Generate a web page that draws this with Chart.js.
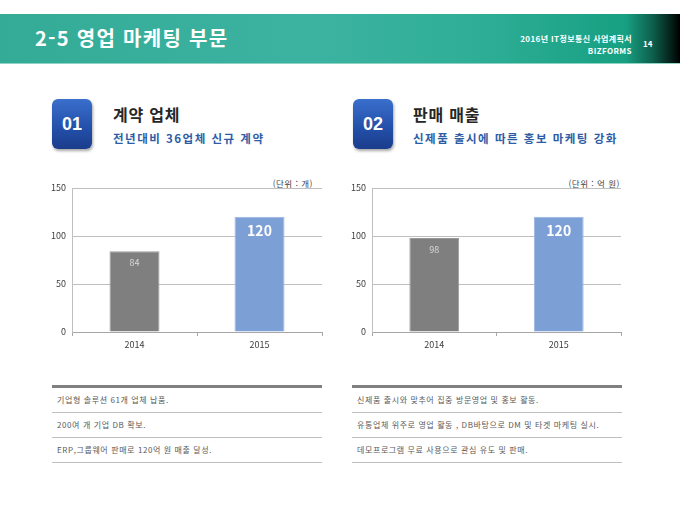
<!DOCTYPE html>
<html lang="ko">
<head>
<meta charset="utf-8">
<script src="https://cdn.jsdelivr.net/npm/chart.js@4/dist/chart.umd.min.js"></script>
<style>
  html, body { margin: 0; padding: 0; background: #fff; }
  body { width: 680px; height: 510px; position: relative; overflow: hidden;
         font-family: "Noto Sans CJK KR", "Noto Sans", sans-serif; }
  .band { position: absolute; left: 0; top: 14px; width: 680px; height: 49px;
          background: linear-gradient(90deg, #34ab96 0%, #3cb3a1 45%, #2fae97 70%, #17a082 92%, #0e5f4c 96%, #000 100%);
          border-bottom: 1px solid #8fd3c4; }
  .band h1 { position: absolute; left: 35px; top: 12px; margin: 0; font-size: 20px; font-weight: bold;
             color: #fff; letter-spacing: 1.3px; line-height: 24px; }
  .band .doc { position: absolute; right: 48px; top: 19px; text-align: right; color: #fff;
               font-size: 8px; font-weight: bold; line-height: 12px; letter-spacing: 0.4px; }
  .band .page { position: absolute; left: 643px; top: 24px; color: #fff; font-size: 8px; font-weight: bold; }
  .badge { position: absolute; top: 99px; width: 40px; height: 50px; border-radius: 6px;
           background: linear-gradient(180deg, #3a6fcc 0%, #2451ab 55%, #1b3d8c 100%);
           box-shadow: 1px 2px 3px rgba(0,0,0,0.35);
           color: #fff; font: bold 18px "Liberation Sans", Arial, sans-serif; text-align: center; line-height: 50px; }
  .sec-title { position: absolute; top: 103px; font-size: 16px; font-weight: bold; color: #262626;
               line-height: 22px; letter-spacing: 0.8px; }
  .sec-sub { position: absolute; top: 129px; font-size: 11.5px; font-weight: bold; color: #2e5da6;
             line-height: 18px; letter-spacing: 1.5px; }
  .unit { position: absolute; top: 177px; font-size: 8.5px; color: #404040; text-align: right;
          white-space: nowrap; letter-spacing: 0.5px; }
  .box { position: absolute; width: 300px; height: 190px; top: 170px; }
  .list { position: absolute; top: 385px; width: 270px; }
  .list .top { height: 3px; background: #808080; }
  .list .row { height: 24px; border-bottom: 1px solid #bfbfbf; font-size: 8px; color: #595959;
               line-height: 24px; padding-left: 5px; white-space: nowrap; letter-spacing: 0.6px; }
</style>
</head>
<body>
<div class="band">
  <h1>2-5 영업 마케팅 부문</h1>
  <div class="doc">2016년 IT정보통신 사업계획서<br>BIZFORMS</div>
  <div class="page">14</div>
</div>

<div class="badge" style="left:52px">01</div>
<div class="sec-title" style="left:113px">계약 업체</div>
<div class="sec-sub" style="left:113px">전년대비 36업체 신규 계약</div>

<div class="badge" style="left:353px">02</div>
<div class="sec-title" style="left:413px">판매 매출</div>
<div class="sec-sub" style="left:413px">신제품 출시에 따른 홍보 마케팅 강화</div>

<div class="unit" style="right:367px">(단위 : 개)</div>
<div class="unit" style="right:60px">(단위 : 억 원)</div>

<div class="box" style="left:30px"><canvas id="contract-chart"></canvas></div>
<div class="box" style="left:330px"><canvas id="sales-chart"></canvas></div>

<div class="list" style="left:52px">
  <div class="top"></div>
  <div class="row">기업형 솔루션 61개 업체 납품.</div>
  <div class="row">200여 개 기업 DB 확보.</div>
  <div class="row">ERP,그룹웨어 판매로 120억 원 매출 달성.</div>
</div>
<div class="list" style="left:352px">
  <div class="top"></div>
  <div class="row">신제품 출시와 맞추어 집중 방문영업 및 홍보 활동.</div>
  <div class="row">유통업체 위주로 영업 활동 , DB바탕으로 DM 및 타겟 마케팅 실시.</div>
  <div class="row">데모프로그램 무료 사용으로 관심 유도 및 판매.</div>
</div>

<script>
const categories = ['2014', '2015'];
const contractValues = [84, 120];
const salesValues = [98, 120];
const yMin = 0;
const yMax = 150;
const yStep = 50;

const barColors = ['#7f7f7f', '#7c9fd6'];
const fontFamily = '"Noto Sans CJK KR", "Noto Sans", sans-serif';

// draws the value inside the top of each bar
const valueLabels = {
  id: 'valueLabels',
  afterDatasetsDraw(chart, args, opts) {
    const ctx = chart.ctx;
    const meta = chart.getDatasetMeta(0);
    const values = chart.data.datasets[0].data;
    ctx.save();
    ctx.textAlign = 'center';
    ctx.textBaseline = 'top';
    meta.data.forEach((bar, i) => {
      const style = opts.styles[i];
      ctx.font = style.font;
      ctx.fillStyle = style.color;
      ctx.fillText(values[i], bar.x, bar.y + style.offset);
    });
    ctx.restore();
  }
};

function makeChart(id, values, yWidth, rightPad) {
  return new Chart(document.getElementById(id), {
    type: 'bar',
    data: {
      labels: categories,
      datasets: [{
        data: values,
        backgroundColor: barColors,
        borderColor: ['#9a9a9a', '#98b5e2'],
        borderWidth: 1,
        barPercentage: 0.4,
        categoryPercentage: 1
      }]
    },
    options: {
      responsive: true,
      maintainAspectRatio: false,
      animation: false,
      layout: { padding: { top: 18, right: rightPad, bottom: 6, left: 0 } },
      plugins: {
        legend: { display: false },
        tooltip: { enabled: false },
        valueLabels: {
          styles: [
            { font: '9px ' + fontFamily, color: '#d9d9d9', offset: 7 },
            { font: 'bold 14px ' + fontFamily, color: '#ffffff', offset: 7 }
          ]
        }
      },
      scales: {
        x: {
          afterFit(scale) { scale.height = 22; },
          grid: { display: true, drawOnChartArea: false, drawTicks: true, tickLength: 4,
                  color: '#a6a6a6', offset: true },
          border: { display: true, color: '#a6a6a6' },
          ticks: { color: '#404040', font: { size: 9, family: fontFamily }, padding: 3 }
        },
        y: {
          min: yMin,
          max: yMax,
          afterFit(scale) { scale.width = yWidth; },
          grid: { color: '#bfbfbf', drawTicks: false },
          border: { display: true, color: '#bfbfbf' },
          ticks: { stepSize: yStep, color: '#404040', font: { size: 9, family: fontFamily }, padding: 6 }
        }
      }
    },
    plugins: [valueLabels]
  });
}

makeChart('contract-chart', contractValues, 42, 8);
makeChart('sales-chart', salesValues, 42, 9);
</script>
</body>
</html>
